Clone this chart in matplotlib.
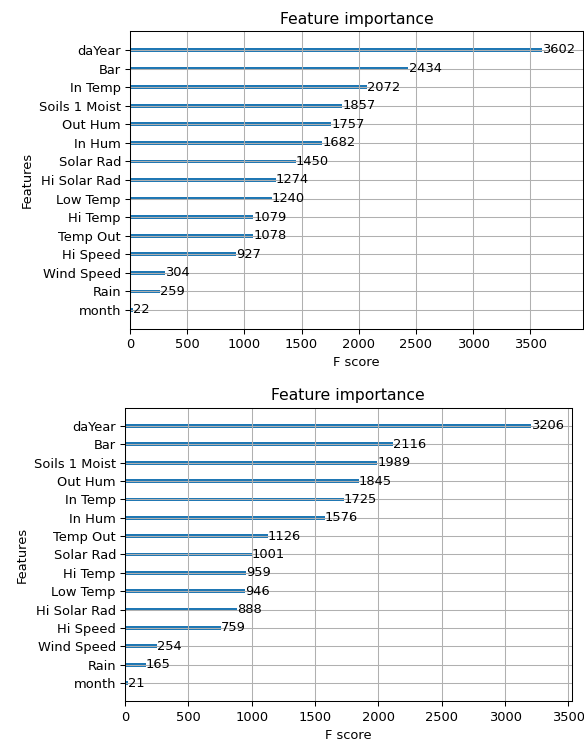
import matplotlib
matplotlib.use("Agg")
import matplotlib.pyplot as plt

# Feature importance (F score) from the two models, listed top to bottom
features_a = ["daYear", "Bar", "In Temp", "Soils 1 Moist", "Out Hum", "In Hum",
              "Solar Rad", "Hi Solar Rad", "Low Temp", "Hi Temp", "Temp Out",
              "Hi Speed", "Wind Speed", "Rain", "month"]
scores_a = [3602, 2434, 2072, 1857, 1757, 1682, 1450, 1274, 1240, 1079, 1078,
            927, 304, 259, 22]

features_b = ["daYear", "Bar", "Soils 1 Moist", "Out Hum", "In Temp", "In Hum",
              "Temp Out", "Solar Rad", "Hi Temp", "Low Temp", "Hi Solar Rad",
              "Hi Speed", "Wind Speed", "Rain", "month"]
scores_b = [3206, 2116, 1989, 1845, 1725, 1576, 1126, 1001, 959, 946, 888,
            759, 254, 165, 21]

plt.rcParams["font.family"] = "DejaVu Sans"
plt.rcParams["font.size"] = 10
plt.rcParams["axes.titlesize"] = 12
plt.rcParams["grid.color"] = "#b0b0b0"
plt.rcParams["grid.linewidth"] = 0.8

DPI = 93.6


def plot_importance(ax, names, values):
    # smallest value goes at the bottom, like xgboost's plot_importance
    names = names[::-1]
    values = values[::-1]
    ylocs = list(range(len(values)))
    ax.barh(ylocs, values, align="center", height=0.2, color="#1f77b4")
    for x, y in zip(values, ylocs):
        ax.text(x + 1, y, str(x), va="center")
    ax.set_yticks(ylocs)
    ax.set_yticklabels(names)
    ax.set_xlim(0, max(values) * 1.1)
    ax.set_ylim(-1, len(values))
    ax.set_title("Feature importance")
    ax.set_xlabel("F score")
    ax.set_ylabel("Features")
    ax.grid(True)
    ax.set_axisbelow("line")


fig = plt.figure(figsize=(584 / DPI, 742 / DPI), dpi=DPI)
ax1 = fig.add_axes([0.2226, 0.5572, 0.7760, 0.4005])
ax2 = fig.add_axes([0.2140, 0.0547, 0.7650, 0.3960])

plot_importance(ax1, features_a, scores_a)
plot_importance(ax2, features_b, scores_b)

fig.savefig("out.png", dpi=DPI)
